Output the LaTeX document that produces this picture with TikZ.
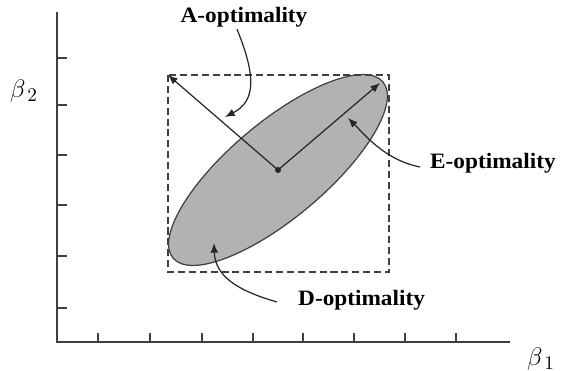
\documentclass[tikz,border=0pt]{standalone}
\usepackage{amsmath}
\usepackage{fontspec}
\usetikzlibrary{arrows.meta}
\newfontfamily\optfont{Liberation Serif Bold}[FakeStretch=1.06]
\definecolor{ellgray}{gray}{0.7}
\tikzset{
  optlab/.style={font=\optfont\fontsize{12.5}{14}\selectfont,inner sep=1pt},
  optarrow/.style={-{Latex[length=5.5pt,width=4.4pt]},line width=.7pt,draw=black!85},
  axisline/.style={line width=.8pt,draw=black!75},
  boxline/.style={line width=1.1pt,draw=black!75,dash pattern=on 4pt off 2.2pt}
}

\begin{document}
\begin{tikzpicture}[x=.02cm,y=.02cm,line width=.5pt]
\useasboundingbox (0,0) rectangle (561,371);
% Axes et graduations.
\draw[axisline] (57,359) -- (57,29) -- (510,29);
\foreach \t in {63,115,166,216,266,313} \draw[axisline] (57,\t) -- (67,\t);
\foreach \t in {98,150,202,253,303,354,405,456} \draw[axisline] (\t,29) -- (\t,38);
\node[font=\fontsize{15}{17}\selectfont] (beta2) at (24,280) {$\beta_{\,2}$};
\node[font=\fontsize{15}{17}\selectfont] (beta1) at (541,12) {$\beta_{\,1}$};
% Ellipse de confiance, son centre et la boite englobante pointillee.
\coordinate (ctr) at (278,201);
\coordinate (corner) at (168,296);
\coordinate (majtip) at (380,288);
\draw[line width=.7pt,draw=black!75,fill=ellgray] (ctr) ellipse [x radius=137,y radius=48,rotate=40];
\draw[boxline] (corner) rectangle (389,99);
\draw[optarrow] (ctr) -- (corner);
\draw[optarrow] (ctr) -- (majtip);
\fill[black!85] (ctr) circle (3);
% Etiquettes des criteres et leurs fleches courbes.
\node[optlab] (aopt) at (244,354) {A-optimality};
\node[optlab,anchor=west] (eopt) at (428,208) {E-optimality};
\node[optlab,anchor=west] (dopt) at (296,71) {D-optimality};
\coordinate (aend) at (225,254);
\coordinate (eend) at (348,253);
\coordinate (dend) at (214,128);
\draw[optarrow] ([xshift=-.14cm]aopt.south) .. controls (256,295) and (256,270) .. (aend);
\draw[optarrow] ([xshift=-.16cm,yshift=-.08cm]eopt.west) .. controls (385,211) and (365,236) .. (eend);
\draw[optarrow] ([xshift=-.38cm,yshift=-.04cm]dopt.west) .. controls (235,81) and (215,96) .. (dend);
\end{tikzpicture}
\end{document}
